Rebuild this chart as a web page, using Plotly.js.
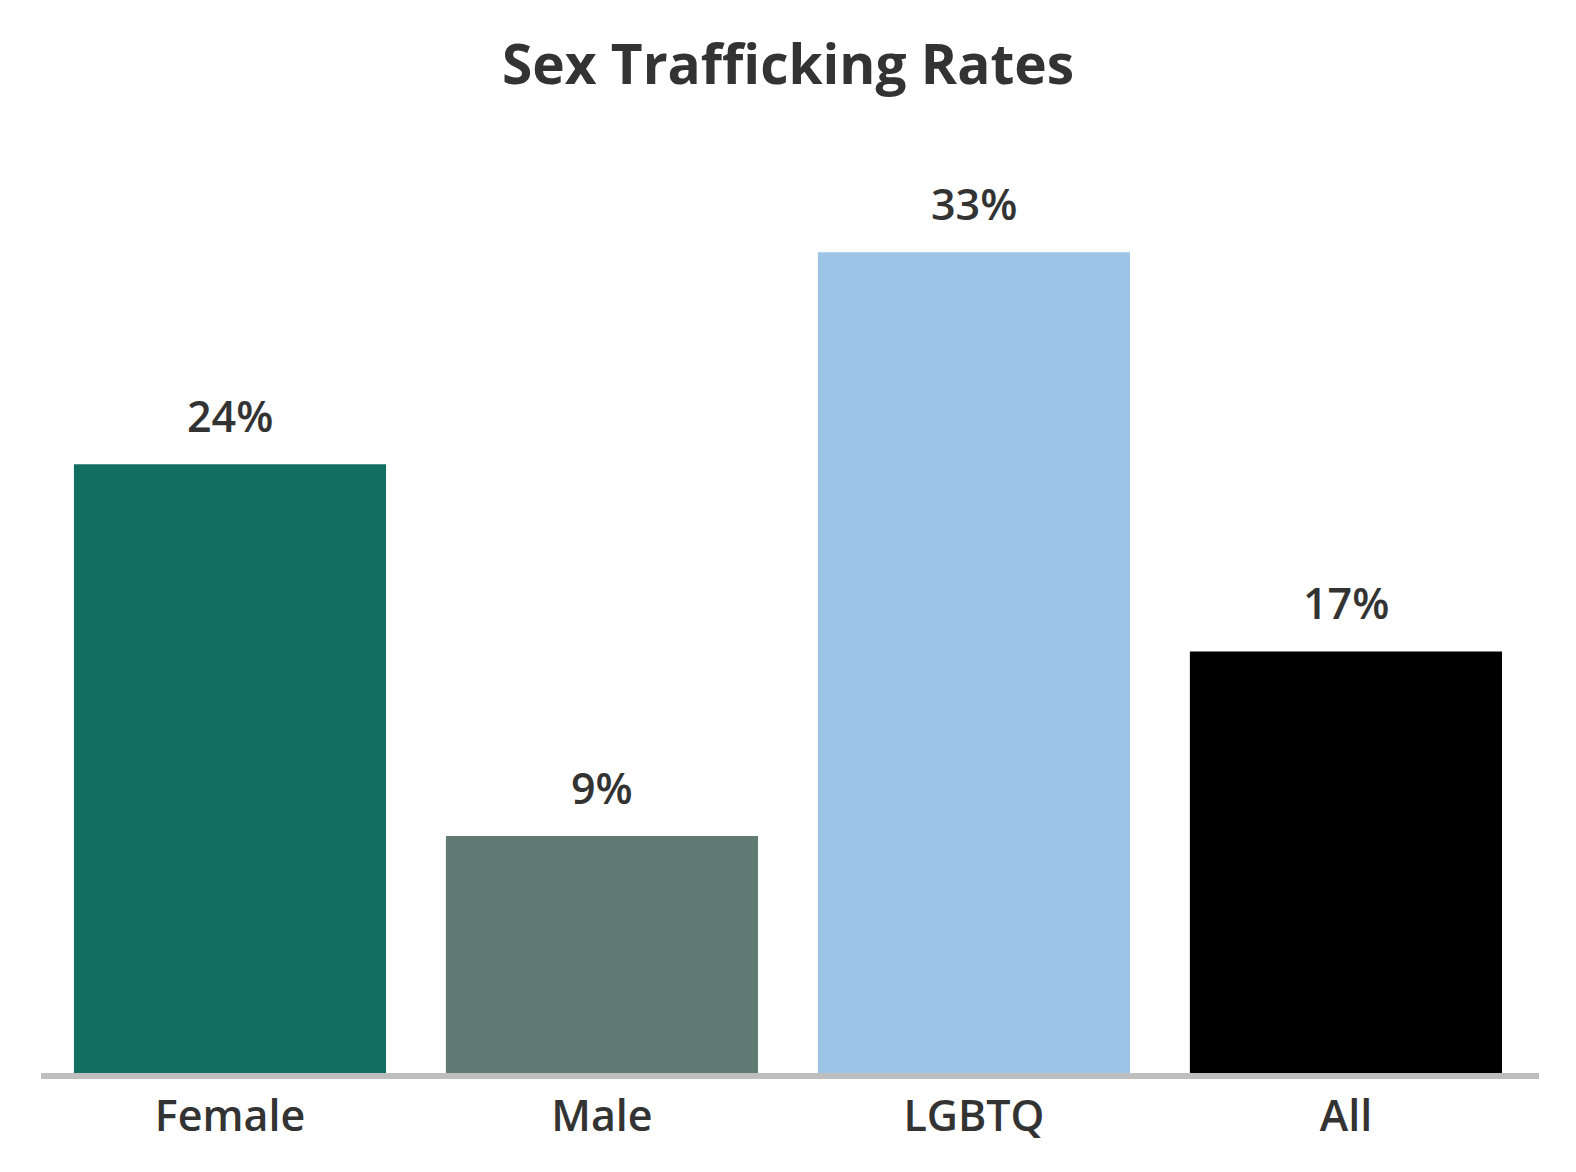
<!DOCTYPE html>
<html>
<head>
<meta charset="utf-8">
<script src="https://cdn.plot.ly/plotly-3.0.1.min.js"></script>
<style>html,body{margin:0;padding:0;background:#fff;overflow:hidden;}#chart{width:1576px;height:1172px;}</style>
</head>
<body>
<div id="chart"></div>
<script>
const categories = ["Female", "Male", "LGBTQ", "All"];
const rates = [24.4, 9.5, 32.9, 16.9];
const labels = ["24%", "9%", "33%", "17%"];
const barColors = ["#116f62", "#607a74", "#9dc3e6", "#000000"];

const trace = {
  type: "bar",
  x: categories,
  y: rates,
  marker: {color: barColors},
  hoverinfo: "skip"
};

const annotations = categories.map((c, i) => ({
  x: c, y: rates[i], xref: "x", yref: "y",
  text: labels[i], showarrow: false, yanchor: "bottom", yshift: 17,
  font: {family: "Open Sans", size: 43, weight: 600, color: "#333333"}
}));

const layout = {
  width: 1576, height: 1172,
  paper_bgcolor: "#ffffff", plot_bgcolor: "#ffffff",
  margin: {l: 41, r: 37, t: 175, b: 99},
  title: {text: "<b>Sex Trafficking Rates</b>", x: 0.5, xanchor: "center", y: 0.961, yanchor: "top",
    font: {family: "Open Sans", size: 55, color: "#333333"}},
  bargap: 0.161,
  showlegend: false,
  xaxis: {range: [-0.508, 3.519], showline: true, linecolor: "#bebebe", linewidth: 6, ticks: "", showgrid: false, zeroline: false,
    tickfont: {family: "Open Sans", size: 43, weight: 600, color: "#333333"}, fixedrange: true},
  yaxis: {range: [0, 36], visible: false, showgrid: false, zeroline: false, fixedrange: true},
  annotations: annotations
};

Plotly.newPlot("chart", [trace], layout, {displayModeBar: false, staticPlot: true});
</script>
</body>
</html>
